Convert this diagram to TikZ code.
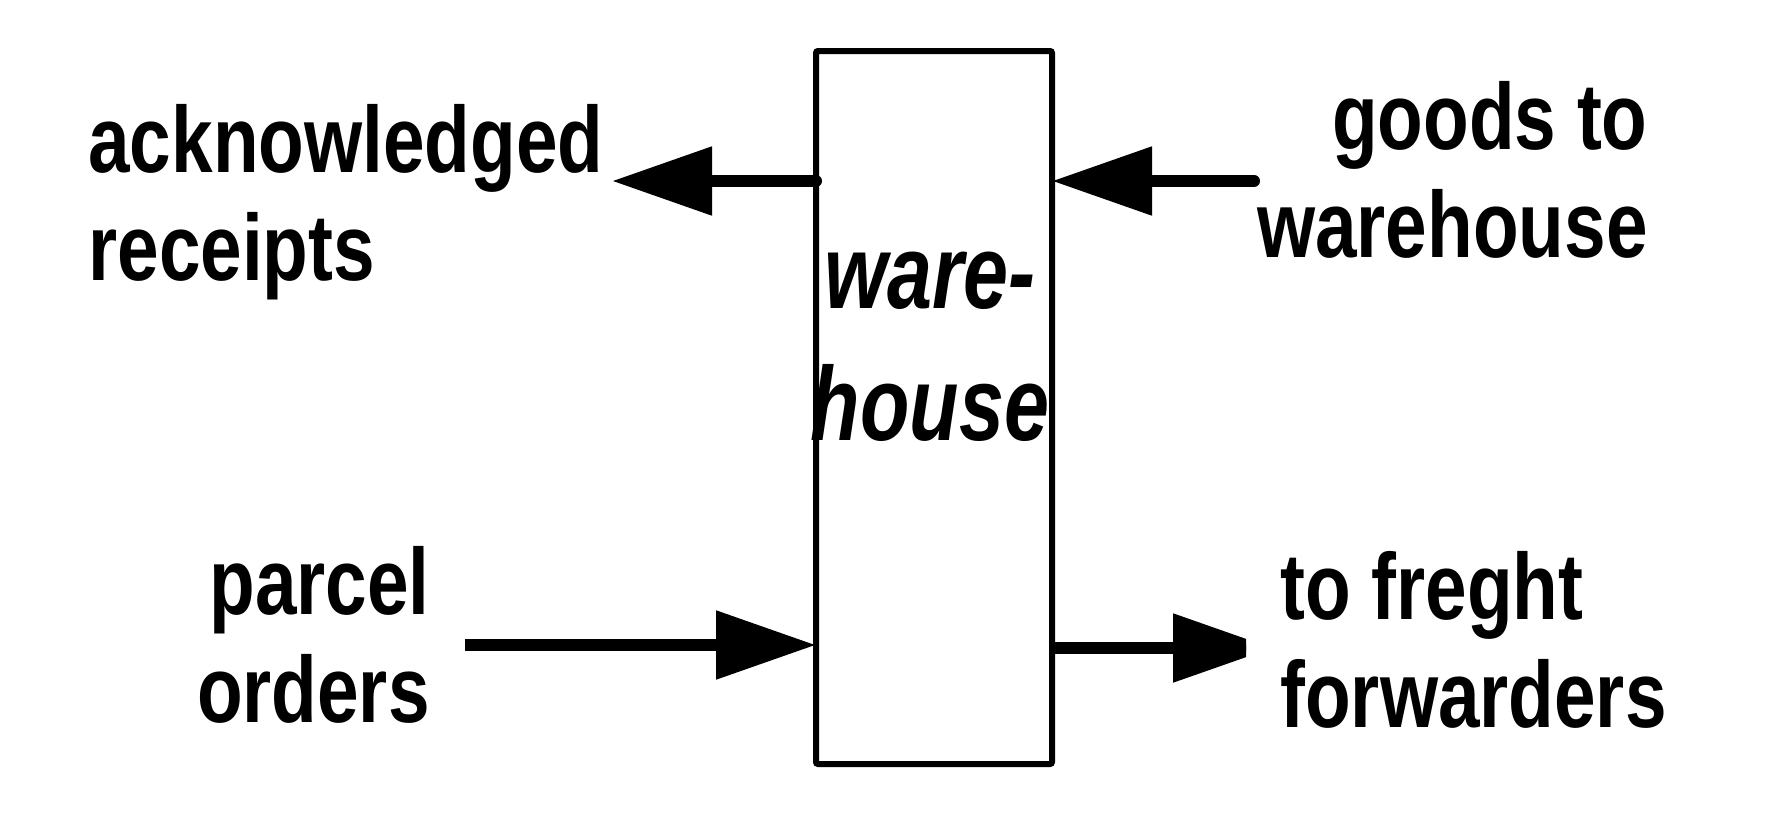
\documentclass[tikz,border=0pt]{standalone}
\usepackage{fontspec}
\setmainfont{Liberation Sans}[FakeStretch=0.795]
\newfontfamily\boxfont{Liberation Sans}[FakeStretch=0.77]
\usetikzlibrary{arrows.meta}
\tikzset{>={Triangle[length=50pt,width=33pt]}}
\tikzset{
	lbl/.style={font=\fontsize{47}{54}\selectfont\bfseries, inner sep=0pt},
	flow/.style={line width=6pt, ->}
}

\begin{document}
\begin{tikzpicture}[x=0.5pt, y=-0.5pt]
	\useasboundingbox (0,0) rectangle (1778,836);

	% the store in the middle
	\node[draw, line width=3pt, rounded corners=1pt, outer sep=0pt, minimum width=118pt, minimum height=356.5pt] (wh) at (934,407.5) {};
	\node[font=\boxfont\fontsize{52.5}{66}\selectfont\bfseries\itshape, inner sep=0pt, anchor=base, align=center] (whname) at (930,440) {ware-\\house};

	% labels (base = last line)
	\node[lbl, anchor=base west, align=left] (ack) at (88,280) {acknowledged\\receipts};
	\node[lbl, anchor=base east, align=right] (goods) at (1648,257) {goods to\\warehouse};
	\node[lbl, anchor=base east, align=right] (parcel) at (430,722) {parcel\\orders};
	\node[lbl, anchor=base west, align=left] (freight) at (1280,727) {to freght\\forwarders};

	% flows
	\coordinate (acktip) at (612,181);
	\draw[flow, line cap=round] (wh.west |- acktip) -- (acktip);

	\coordinate (goodsin) at (1254,181);
	\draw[flow, line cap=round] (goodsin) -- (wh.east |- goodsin);

	\coordinate (parcelin) at (465,645);
	\draw[flow] (parcelin) -- (wh.west |- parcelin);

	\coordinate (freighttip) at (1273,648);
	\begin{scope}
		\clip (1040,600) rectangle (1246,700);
		\draw[flow] (wh.east |- freighttip) -- (freighttip);
	\end{scope}

\end{tikzpicture}
\end{document}
